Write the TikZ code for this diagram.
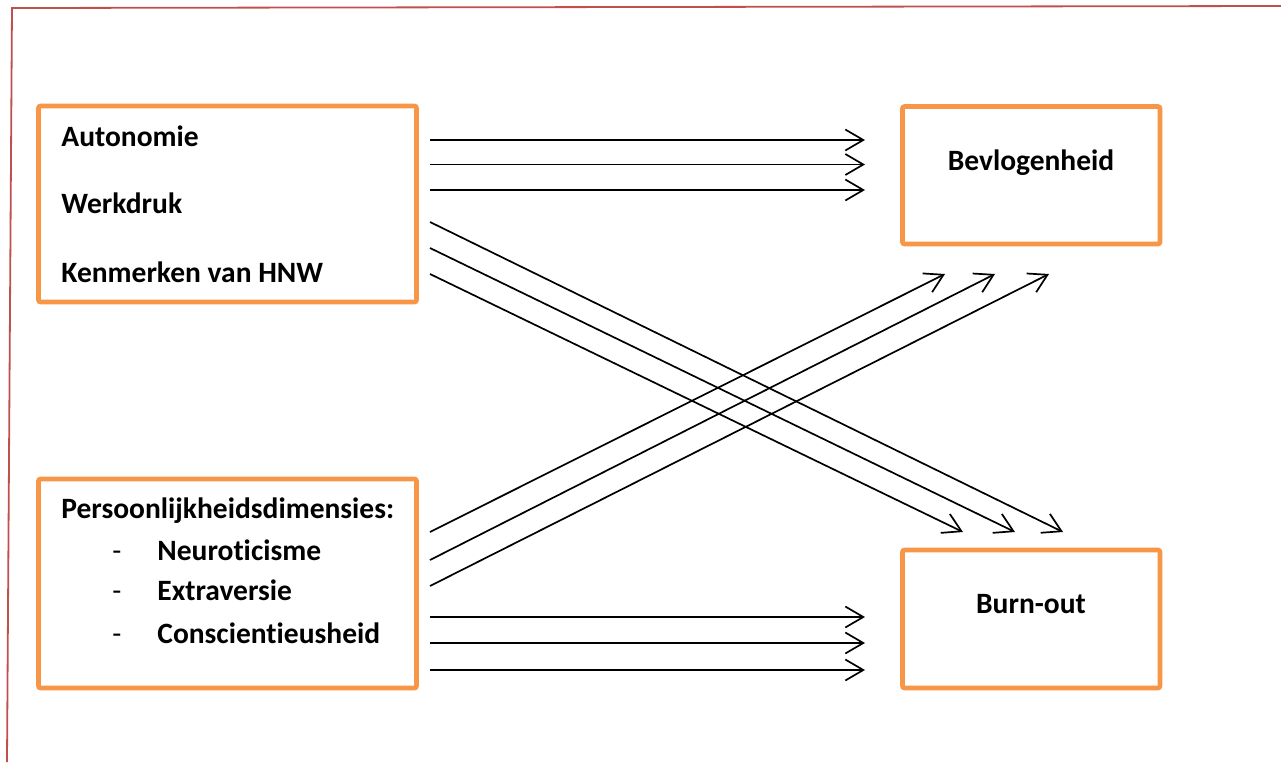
\documentclass[tikz,border=0pt]{standalone}
\usepackage{fontspec}
\setmainfont{Carlito}[RawFeature={-liga;-clig;-calt}]
\usetikzlibrary{arrows.meta}

\definecolor{kaderrood}{HTML}{C0504D}
\definecolor{oranje}{HTML}{F79646}

\begin{document}
\begin{tikzpicture}[x=0.5pt, y=-0.5pt,
    kader/.style={draw=oranje, line width=2.3pt, rounded corners=1pt, inner sep=0pt},
    tekst/.style={inner sep=0pt, font=\bfseries\fontsize{14.75}{18}\selectfont},
    streep/.style={inner sep=0pt, font=\fontsize{14.75}{18}\selectfont},
    pijl/.style={-{Straight Barb[length=9pt, width=10.5pt]}, line width=0.85pt}]

          \useasboundingbox (0,0) rectangle (1281,762);

          % rand van de pagina
          \draw [kaderrood, line width=0.9pt] (7,762) -- (12,8) -- (1281,6);

          % kaders
          \node [kader, minimum width=189pt, minimum height=98pt] (werk) at (227.5,204) {};
          \node [kader, minimum width=189pt, minimum height=104.5pt] (pers) at (227.5,583.5) {};
          \node [kader, minimum width=128.75pt, minimum height=68.75pt] (bevl) at (1031.25,175.25) {};
          \node [kader, minimum width=128.75pt, minimum height=69pt] (burn) at (1031.25,619) {};

          % teksten
          \node [tekst, anchor=base west] (auto) at (61,146) {Autonomie};
          \node [tekst, anchor=base west] (druk) at (61,213) {Werkdruk};
          \node [tekst, anchor=base west] (hnw) at (61,282) {Kenmerken van HNW};
          \node [tekst, anchor=base west] (dim) at (61,518) {Persoonlijkheidsdimensies:};
          \node [streep, anchor=base west] (s1) at (112,560) {-};
          \node [streep, anchor=base west] (s2) at (112,600) {-};
          \node [streep, anchor=base west] (s3) at (112,643) {-};
          \node [tekst, anchor=base west] (neuro) at (157,560) {Neuroticisme};
          \node [tekst, anchor=base west] (extra) at (157,600) {Extraversie};
          \node [tekst, anchor=base west] (consc) at (157,643) {Conscientieusheid};
          \node [tekst, anchor=base] (tbevl) at (1031,170) {Bevlogenheid};
          \node [tekst, anchor=base] (tburn) at (1031,613) {Burn-out};

          % begin- en eindpunten van de pijlen
          \coordinate (w1) at (430,140);
          \coordinate (w2) at (430,164.5);
          \coordinate (w3) at (430,190);
          \coordinate (w4) at (430,222);
          \coordinate (w5) at (430,248);
          \coordinate (w6) at (430,274);
          \coordinate (p1) at (430,532);
          \coordinate (p2) at (430,560);
          \coordinate (p3) at (430,586);
          \coordinate (p4) at (430,617);
          \coordinate (p5) at (430,643);
          \coordinate (p6) at (430,670);
          \coordinate (b1) at (865,140);
          \coordinate (b2) at (865,164.5);
          \coordinate (b3) at (865,190);
          \coordinate (b4) at (945,274);
          \coordinate (b5) at (995,274);
          \coordinate (b6) at (1049,274);
          \coordinate (o1) at (963,532);
          \coordinate (o2) at (1015,532);
          \coordinate (o3) at (1063,532);
          \coordinate (o4) at (865,617);
          \coordinate (o5) at (865,643);
          \coordinate (o6) at (865,670);

          \draw [pijl] (w1) -- (b1);
          \draw [pijl] (w2) -- (b2);
          \draw [pijl] (w3) -- (b3);
          \draw [pijl] (w4) -- (o3);
          \draw [pijl] (w5) -- (o2);
          \draw [pijl] (w6) -- (o1);

          \draw [pijl] (p1) -- (b4);
          \draw [pijl] (p2) -- (b5);
          \draw [pijl] (p3) -- (b6);
          \draw [pijl] (p4) -- (o4);
          \draw [pijl] (p5) -- (o5);
          \draw [pijl] (p6) -- (o6);
        \end{tikzpicture}
\end{document}
